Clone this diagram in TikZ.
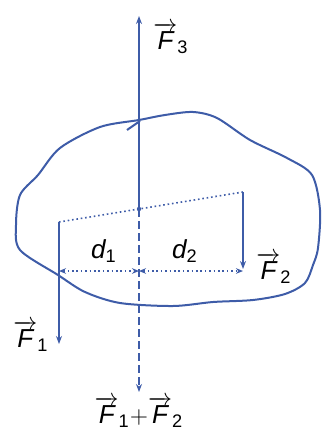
\documentclass[tikz,border=0pt]{standalone}
\usepackage{amsmath}
\usepackage{fontspec}
\setmainfont{Liberation Sans}
\usetikzlibrary{arrows.meta}
\definecolor{bleu}{RGB}{62,92,168}
\newcommand{\vF}[1]{$\overrightarrow{\text{\itshape F}}_{\text{#1}}$}
\newcommand{\dist}[1]{$\text{\itshape d}_{\text{#1}}$}

\begin{document}
\begin{tikzpicture}[x=0.5pt, y=-0.5pt, font=\fontsize{13}{15}\selectfont,
    force/.style={bleu, line width=0.6pt, -{Stealth[length=4pt, width=3pt]}},
    pointille/.style={bleu, line width=0.8pt, dash pattern=on 0.8pt off 1.4pt},
    cote/.style={pointille, {Stealth[length=3.5pt, width=2.8pt]}-{Stealth[length=3.5pt, width=2.8pt]}}]
   \useasboundingbox (0,0) rectangle (321,433);

   % le solide
   \draw[bleu, line width=1pt] plot[smooth cycle, tension=0.5] coordinates {
     (139,120) (165,115) (193,112) (217,118) (250,140) (287,158)
     (312,175) (320,210) (318,248) (313,265) (305,283) (285,294)
     (253,300) (213,302) (173,306) (120,303) (85,292) (58,275)
     (20,250) (16,225) (20,195) (38,175) (60,148) (100,127)};
   \draw[bleu, line width=1pt] (127,130) -- (140,121);

   % points
   \coordinate (O) at (139,209);
   \coordinate (haut) at (139,16);
   \coordinate (bas) at (139,392);
   \coordinate (A) at (59,222);
   \coordinate (B) at (243,192);
   \coordinate (A1) at (59,344);
   \coordinate (B1) at (243,269);
   \coordinate (dA) at (59,271);
   \coordinate (dO) at (139,271);
   \coordinate (dB) at (243,271);

   % forces
   \draw[force, line width=1pt] (O) -- (haut);
   \draw[force, dashed, dash pattern=on 4pt off 2pt] (O) -- (bas);
   \draw[force] (A) -- (A1);
   \draw[force] (B) -- (B1);
   \draw[pointille] (A) -- (O) -- (B);
   \fill[bleu] (O) circle (2.2);

   % distances
   \draw[cote] (dA) -- (dO);
   \draw[cote] (dO) -- (dB);

   % textes
   \node (F3) at (171,38) {\vF{3}};
   \node (F2) at (274,268) {\vF{2}};
   \node (F1) at (31,336) {\vF{1}};
   \node (F12) at (139,412) {\vF{1}$+$\vF{2}};
   \node (d1) at (104,251) {\dist{1}};
   \node (d2) at (185,251) {\dist{2}};
\end{tikzpicture}
\end{document}
